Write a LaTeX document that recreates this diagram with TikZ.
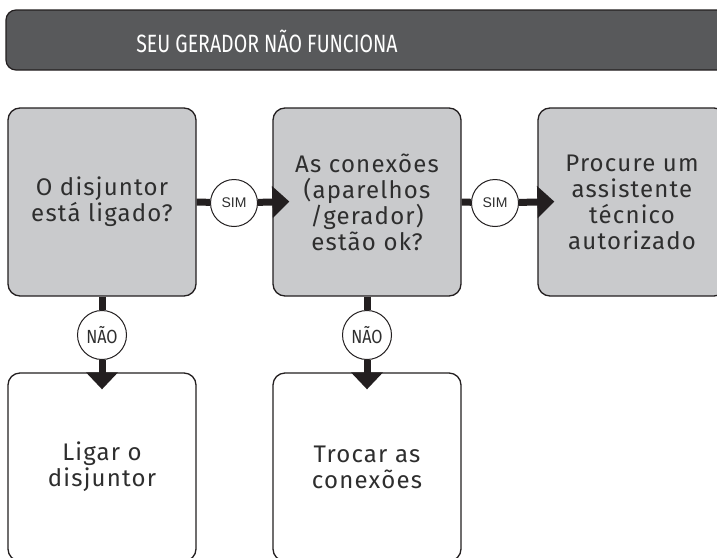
\documentclass[tikz,border=0pt]{standalone}
\usepackage{fontspec}
\usepackage{graphicx}
\setmainfont{Fira Sans}
\newfontfamily\boxfont[LetterSpace=5]{Fira Sans}
\newfontfamily\titlefont{Fira Sans}
\newfontfamily\simfont{Liberation Sans}
\usetikzlibrary{arrows.meta}
\definecolor{titlegray}{HTML}{58595B}
\definecolor{boxgray}{HTML}{C9CACC}
\definecolor{ink}{HTML}{231F20}
\definecolor{txt}{HTML}{2E2E2E}
\tikzset{
  qbox/.style={draw=ink, line width=1.3pt, rounded corners=12pt, minimum width=188pt, minimum height=188pt, inner sep=0pt, align=center, text=txt, font=\boxfont\fontsize{24}{26}\selectfont},
  qfill/.style={qbox, fill=boxgray},
  abox/.style={qbox, fill=white},
  badge/.style={circle, draw=ink, line width=1pt, fill=white, minimum size=47pt, inner sep=0pt, text=txt},
  conn/.style={draw=ink, line width=7pt},
  arr/.style={conn, -{Triangle[length=17pt,width=31pt]}, shorten >=-17pt},
}
\begin{document}
\begin{tikzpicture}[x=1pt,y=-1pt]
\clip (0,0) rectangle (717,557);
\fill[white] (0,0) rectangle (717,557);
% title bar
\node[draw=ink, line width=1.2pt, fill=titlegray, rounded corners=10pt, minimum width=740pt, minimum height=60pt, inner sep=0pt] (title) at (376,40) {};
\node[text=white, inner sep=0pt] (titletext) at (267,41) {\titlefont\fontsize{25}{28}\selectfont\scalebox{0.78}[1]{SEU GERADOR NÃO FUNCIONA}};
% boxes
\node[qfill] (b1) at (102,202) {O disjuntor\\está ligado?};
\node[qfill] (b2) at (367,202) {As conexões\\(aparelhos\\/gerador)\\estão ok?};
\node[qfill] (b3) at (632,202) {Procure um\\assistente\\técnico\\autorizado};
\node[abox] (b4) at (102,467) {Ligar o\\disjuntor};
\node[abox] (b5) at (367,467) {Trocar as\\conexões};
% badges
\node[badge, font=\simfont\fontsize{14}{16}\selectfont] (s1) at (234,203) {SIM};
\node[badge, font=\simfont\fontsize{14}{16}\selectfont] (s2) at (495,203) {SIM};
\node[badge, minimum size=49pt, font=\titlefont\fontsize{19}{21}\selectfont] (n1) at (102,335) {\scalebox{0.85}[1]{NÃO}};
\node[badge, minimum size=49pt, font=\titlefont\fontsize{19}{21}\selectfont] (n2) at (367,335) {\scalebox{0.85}[1]{NÃO}};
% connectors
\draw[conn] (b1.east) -- (s1);
\draw[arr] (s1) -- (b2.west);
\draw[conn] (b2.east) -- (s2);
\draw[arr] (s2) -- (b3.west);
\draw[conn] (b1.south) -- (n1);
\draw[arr] (n1) -- (b4.north);
\draw[conn] (b2.south) -- (n2);
\draw[arr] (n2) -- (b5.north);
\end{tikzpicture}
\end{document}
